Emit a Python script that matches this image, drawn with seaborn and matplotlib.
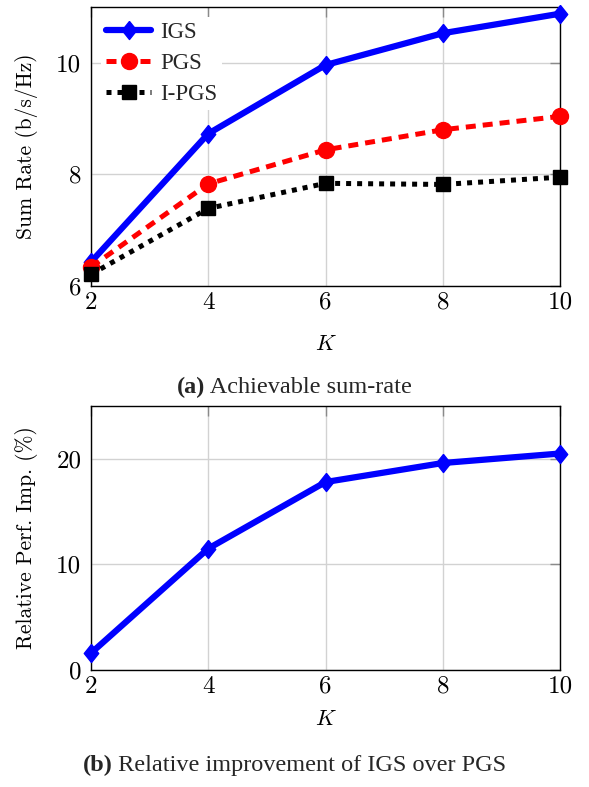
import numpy as np
import pandas as pd
import seaborn as sns
import matplotlib
matplotlib.use("Agg")
import matplotlib.pyplot as plt

# data
K = [2, 4, 6, 8, 10]
igs = [6.43, 8.73, 9.96, 10.53, 10.88]
pgs = [6.34, 7.83, 8.44, 8.80, 9.04]
ipgs = [6.21, 7.39, 7.84, 7.82, 7.95]
improvement = [1.6, 11.5, 17.8, 19.6, 20.5]

sns.set_theme(style="white")
plt.rcParams["font.family"] = ["Liberation Serif", "DejaVu Serif"]
plt.rcParams["mathtext.fontset"] = "cm"

GRID = "#d2d2d2"
TICK = "#8a8a8a"
DIAMOND = [(0, 1), (0.8, 0), (0, -1), (-0.8, 0), (0, 1)]

W, H = 589, 787
fig = plt.figure(figsize=(W / 100, H / 100), dpi=100)
ax1 = fig.add_axes([91 / W, 1 - 286 / H, 469 / W, 279 / H])
ax2 = fig.add_axes([91 / W, 1 - 670 / H, 469 / W, 264 / H])


def style_axes(ax, yticks, ylim, ylabel, k_top_px):
    ax.set_xlim(2, 10)
    ax.set_ylim(*ylim)
    ax.set_xticks(K)
    ax.set_yticks(yticks)
    ax.grid(True, color=GRID, linewidth=1.0)
    ax.set_axisbelow(True)
    for s in ax.spines.values():
        s.set_color("black")
        s.set_linewidth(1.0)
        s.set_visible(True)
    ax.tick_params(direction="in", top=True, right=True, length=7, width=1,
                   color=TICK, labelsize=18, labelfontfamily="cmr10",
                   labelcolor="black")
    ax.tick_params(axis="x", pad=4)
    ax.tick_params(axis="y", pad=7)
    ax.set_ylabel(ylabel, fontfamily="cmr10", fontsize=15.5, color="black")
    ax.yaxis.set_label_coords(-0.113, 0.5)
    ax.set_xlabel("$K$", fontsize=16, color="black")
    bb = ax.get_position()
    ax_bottom_px = (1 - bb.y0) * H
    ax.xaxis.set_label_coords(0.5, -(k_top_px - ax_bottom_px) / (bb.height * H))


# (a) sum rate
sns.lineplot(x=K, y=igs, ax=ax1, color="blue", lw=4.5, marker=DIAMOND, ms=13,
             mec="blue", mew=1, label="IGS", clip_on=False, zorder=3)
sns.lineplot(x=K, y=pgs, ax=ax1, color="red", lw=3.6, linestyle=(0, (2.0, 1.4)),
             marker="o", ms=11.5, mec="red", mew=1, label="PGS", clip_on=False, zorder=4)
sns.lineplot(x=K, y=ipgs, ax=ax1, color="black", lw=3.6, linestyle=(0, (1.0, 1.2)),
             marker="s", ms=10.5, mec="black", mew=1, label="I-PGS", clip_on=False, zorder=5)
style_axes(ax1, [6, 8, 10], (6, 11), "Sum Rate (b/s/Hz)", 336)
leg = ax1.legend(loc="upper left", frameon=True, fontsize=16.5, handlelength=1.95,
                 handletextpad=0.4, labelspacing=0.42, borderpad=0.22,
                 borderaxespad=0.45, numpoints=1)
leg.get_frame().set_edgecolor("none")
leg.get_frame().set_facecolor("white")
leg.get_frame().set_alpha(1)

# (b) relative improvement
sns.lineplot(x=K, y=improvement, ax=ax2, color="blue", lw=4.5, marker=DIAMOND, ms=13,
             mec="blue", mew=1, clip_on=False, zorder=3, legend=False)
style_axes(ax2, [0, 10, 20], (0, 25), "Relative Perf. Imp. (%)", 711)


def caption(y_px, tag, rest):
    y = 1 - y_px / H
    t1 = fig.text(0, y, tag, fontweight="bold", fontsize=17.5, va="baseline")
    t2 = fig.text(0, y, " " + rest, fontsize=17.5, va="baseline")
    fig.canvas.draw()
    r = fig.canvas.get_renderer()
    w1 = t1.get_window_extent(r).width
    w2 = t2.get_window_extent(r).width
    x0 = (fig.bbox.width - w1 - w2) / 2
    t1.set_x(x0 / fig.bbox.width)
    t2.set_x((x0 + w1) / fig.bbox.width)


caption(393, "(a)", "Achievable sum-rate")
caption(771, "(b)", "Relative improvement of IGS over PGS")

fig.savefig("out.png", dpi=100, facecolor="white")
